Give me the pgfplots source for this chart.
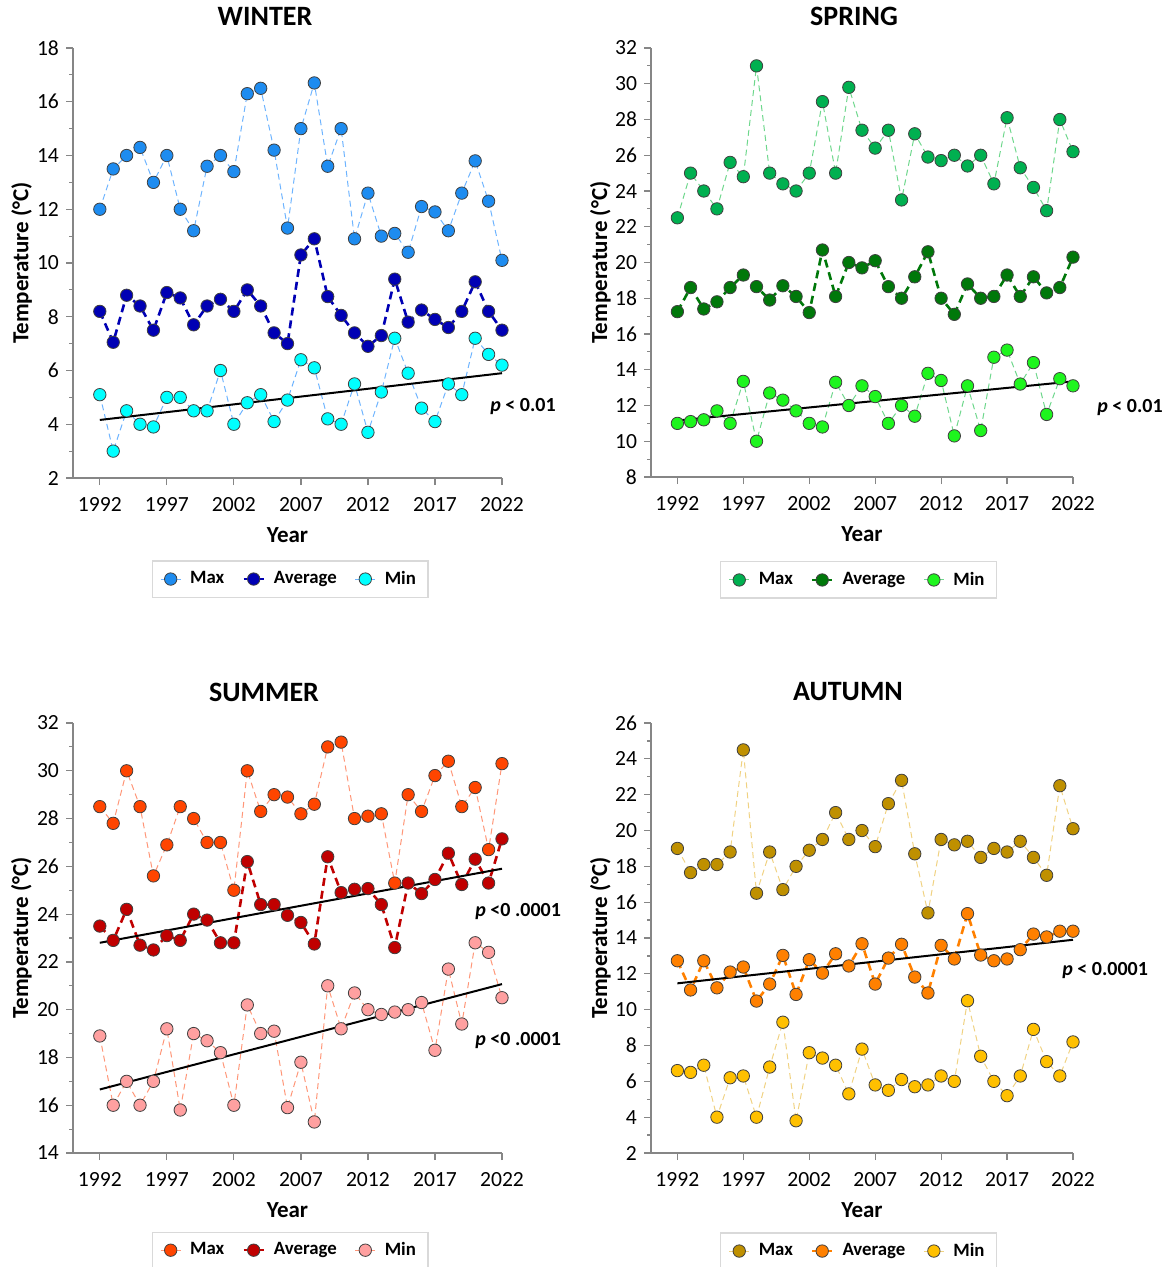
\documentclass[border=0pt]{standalone}
\usepackage{pgfplots}
\pgfplotsset{compat=1.18}
\usepackage{pgfplotstable}
\usepackage{fontspec}
\setmainfont{Carlito}

% palette
\definecolor{axisgray}{RGB}{134,134,134}
\definecolor{legendgray}{RGB}{217,217,217}
\definecolor{markedge}{RGB}{64,64,64}
% winter
\definecolor{wmax}{RGB}{30,140,240}
\definecolor{wmaxl}{RGB}{110,180,255}
\definecolor{wavg}{RGB}{0,0,180}
\definecolor{wmin}{RGB}{0,255,255}
% spring
\definecolor{smax}{RGB}{0,176,80}
\definecolor{smaxl}{RGB}{110,215,140}
\definecolor{savg}{RGB}{0,120,10}
\definecolor{smin}{RGB}{30,245,30}
% summer
\definecolor{umax}{RGB}{255,69,0}
\definecolor{umaxl}{RGB}{255,150,120}
\definecolor{uavg}{RGB}{192,0,0}
\definecolor{umin}{RGB}{255,160,160}
% autumn
\definecolor{amax}{RGB}{191,144,0}
\definecolor{amaxl}{RGB}{240,210,130}
\definecolor{aavg}{RGB}{255,128,0}
\definecolor{amin}{RGB}{255,192,0}

\pgfplotstableread{
year max avg min
1992 12.0 8.20 5.1
1993 13.5 7.05 3.0
1994 14.0 8.80 4.5
1995 14.3 8.40 4.0
1996 13.0 7.50 3.9
1997 14.0 8.90 5.0
1998 12.0 8.70 5.0
1999 11.2 7.70 4.5
2000 13.6 8.40 4.5
2001 14.0 8.65 6.0
2002 13.4 8.20 4.0
2003 16.3 9.00 4.8
2004 16.5 8.40 5.1
2005 14.2 7.40 4.1
2006 11.3 7.00 4.9
2007 15.0 10.30 6.4
2008 16.7 10.90 6.1
2009 13.6 8.75 4.2
2010 15.0 8.05 4.0
2011 10.9 7.40 5.5
2012 12.6 6.90 3.7
2013 11.0 7.30 5.2
2014 11.1 9.40 7.2
2015 10.4 7.80 5.9
2016 12.1 8.25 4.6
2017 11.9 7.90 4.1
2018 11.2 7.60 5.5
2019 12.6 8.20 5.1
2020 13.8 9.30 7.2
2021 12.3 8.20 6.6
2022 10.1 7.50 6.2
}\winter

\pgfplotstableread{
year max avg min
1992 22.5 17.25 11.0
1993 25.0 18.60 11.1
1994 24.0 17.40 11.2
1995 23.0 17.80 11.7
1996 25.6 18.60 11.0
1997 24.8 19.30 13.35
1998 31.0 18.65 10.0
1999 25.0 17.90 12.7
2000 24.4 18.70 12.3
2001 24.0 18.10 11.7
2002 25.0 17.20 11.0
2003 29.0 20.70 10.8
2004 25.0 18.10 13.3
2005 29.8 20.00 12.0
2006 27.4 19.70 13.1
2007 26.4 20.10 12.5
2008 27.4 18.65 11.0
2009 23.5 18.00 12.0
2010 27.2 19.20 11.4
2011 25.9 20.60 13.8
2012 25.7 18.00 13.4
2013 26.0 17.10 10.3
2014 25.4 18.80 13.1
2015 26.0 18.00 10.6
2016 24.4 18.10 14.7
2017 28.1 19.30 15.1
2018 25.3 18.10 13.2
2019 24.2 19.20 14.4
2020 22.9 18.30 11.5
2021 28.0 18.60 13.5
2022 26.2 20.30 13.1
}\spring

\pgfplotstableread{
year max avg min
1992 28.5 23.50 18.9
1993 27.8 22.90 16.0
1994 30.0 24.20 17.0
1995 28.5 22.70 16.0
1996 25.6 22.50 17.0
1997 26.9 23.10 19.2
1998 28.5 22.90 15.8
1999 28.0 24.00 19.0
2000 27.0 23.75 18.7
2001 27.0 22.80 18.2
2002 25.0 22.80 16.0
2003 30.0 26.20 20.2
2004 28.3 24.40 19.0
2005 29.0 24.40 19.1
2006 28.9 23.95 15.9
2007 28.2 23.65 17.8
2008 28.6 22.75 15.3
2009 31.0 26.40 21.0
2010 31.2 24.90 19.2
2011 28.0 25.04 20.7
2012 28.1 25.07 20.0
2013 28.2 24.40 19.8
2014 25.3 22.60 19.9
2015 29.0 25.30 20.0
2016 28.3 24.86 20.3
2017 29.8 25.45 18.3
2018 30.4 26.55 21.7
2019 28.5 25.24 19.4
2020 29.3 26.30 22.8
2021 26.7 25.30 22.4
2022 30.3 27.15 20.5
}\summer

\pgfplotstableread{
year max avg min
1992 19.0 12.73 6.6
1993 17.65 11.10 6.5
1994 18.1 12.73 6.9
1995 18.1 11.22 4.0
1996 18.8 12.10 6.2
1997 24.5 12.38 6.3
1998 16.5 10.48 4.0
1999 18.8 11.43 6.8
2000 16.7 13.03 9.3
2001 18.0 10.85 3.8
2002 18.9 12.79 7.6
2003 19.5 12.04 7.3
2004 21.0 13.12 6.9
2005 19.5 12.44 5.3
2006 20.0 13.68 7.8
2007 19.1 11.43 5.8
2008 21.5 12.88 5.5
2009 22.8 13.65 6.1
2010 18.7 11.82 5.7
2011 15.4 10.93 5.8
2012 19.5 13.59 6.3
2013 19.2 12.83 6.0
2014 19.4 15.36 10.5
2015 18.5 13.05 7.4
2016 19.0 12.73 6.0
2017 18.8 12.83 5.2
2018 19.4 13.35 6.3
2019 18.5 14.22 8.9
2020 17.5 14.06 7.1
2021 22.5 14.38 6.3
2022 20.1 14.38 8.2
}\autumn

\pgfplotsset{
  season/.style={
    scale only axis, clip=false,
    xmin=1990, xmax=2022,
    axis x line*=bottom, axis y line*=left,
    axis line style={draw=axisgray, line width=0.6pt, -},
    xtick={1992,1997,...,2022},
    minor x tick num=0, minor y tick num=1,
    tick align=outside,
    major tick length=3.5pt, minor tick length=2pt,
    every tick/.style={draw=axisgray, line width=0.6pt},
    ticklabel style={font=\fontsize{10.8}{12}\selectfont},
    x tick label style={yshift=-2.5pt},
    /pgf/number format/assume math mode=true,
    /pgf/number format/1000 sep={},
    xlabel={Year}, ylabel={Temperature (°C)},
    label style={font=\bfseries\fontsize{11.5}{13}\selectfont},
    xlabel style={at={(axis description cs:0.5,-0.1326)}, anchor=center},
    ylabel style={at={(axis description cs:-0.12,0.5)}, anchor=center},
    legend columns=3,
    legend style={anchor=center, draw=legendgray, line width=0.6pt,
      font=\bfseries\fontsize{9.4}{10.5}\selectfont,
      inner xsep=4pt, inner ysep=3pt,
      /tikz/every odd column/.append style={column sep=2.5pt},
      /tikz/every even column/.append style={column sep=7pt}},
    legend image code/.code={%
      \draw[solid, mark repeat=2, mark phase=2]
        plot coordinates {(0pt,0pt) (5pt,0pt) (10pt,0pt)};},
  },
  thin line/.style={dash pattern=on 3pt off 2pt, line width=0.5pt},
  thick line/.style={dash pattern=on 4pt off 2.5pt, line width=1.3pt},
  dot/.style={mark=*, mark size=3.1pt,
    mark options={solid, fill=#1, draw=markedge, line width=0.4pt}},
  trend/.style={black, line width=1pt, forget plot},
}

\begin{document}
\begin{tikzpicture}
\useasboundingbox (0,0) rectangle (587.5pt,-633.5pt);

% ---------- winter ----------
\begin{axis}[season, at={(36.5pt,-239pt)}, anchor=south west,
  width=214.5pt, height=215pt, ymin=2, ymax=18, ytick={2,4,...,18},
  legend style={at={(0.506,-0.235)}}]
  \addplot[wmaxl, thin line, dot=wmax] table[x=year,y=max] {\winter};
  \addlegendentry{Max}
  \addplot[wavg, thick line, dot=wavg] table[x=year,y=avg] {\winter};
  \addlegendentry{Average}
  \addplot[wmaxl, thin line, dot=wmin] table[x=year,y=min] {\winter};
  \addlegendentry{Min}
  \addplot[trend] coordinates {(1992,4.16) (2022,5.9)};
\end{axis}

% ---------- spring ----------
\begin{axis}[season, at={(325.5pt,-238.5pt)}, anchor=south west,
  width=211pt, height=214.5pt, ymin=8, ymax=32, ytick={8,10,...,32},
  legend style={at={(0.492,-0.240)}}]
  \addplot[smaxl, thin line, dot=smax] table[x=year,y=max] {\spring};
  \addlegendentry{Max}
  \addplot[savg, thick line, dot=savg] table[x=year,y=avg] {\spring};
  \addlegendentry{Average}
  \addplot[smaxl, thin line, dot=smin] table[x=year,y=min] {\spring};
  \addlegendentry{Min}
  \addplot[trend] coordinates {(1992,11.16) (2022,13.35)};
\end{axis}

% ---------- summer ----------
\begin{axis}[season, at={(36.5pt,-576.5pt)}, anchor=south west,
  width=214.5pt, height=215pt, ymin=14, ymax=32, ytick={14,16,...,32},
  legend style={at={(0.506,-0.226)}}]
  \addplot[umaxl, thin line, dot=umax] table[x=year,y=max] {\summer};
  \addlegendentry{Max}
  \addplot[uavg, thick line, dot=uavg] table[x=year,y=avg] {\summer};
  \addlegendentry{Average}
  \addplot[umaxl, thin line, dot=umin] table[x=year,y=min] {\summer};
  \addlegendentry{Min}
  \addplot[trend] coordinates {(1992,22.8) (2022,25.9)};
  \addplot[trend] coordinates {(1992,16.66) (2022,21.07)};
\end{axis}

% ---------- autumn ----------
\begin{axis}[season, at={(325.5pt,-576.5pt)}, anchor=south west,
  width=211pt, height=215pt, ymin=2, ymax=26, ytick={2,4,...,26},
  legend style={at={(0.492,-0.228)}}]
  \addplot[amaxl, thin line, dot=amax] table[x=year,y=max] {\autumn};
  \addlegendentry{Max}
  \addplot[aavg, thick line, dot=aavg] table[x=year,y=avg] {\autumn};
  \addlegendentry{Average}
  \addplot[amaxl, thin line, dot=amin] table[x=year,y=min] {\autumn};
  \addlegendentry{Min}
  \addplot[trend] coordinates {(1992,11.47) (2022,13.9)};
\end{axis}

% panel titles
\begin{scope}[font=\bfseries\fontsize{14}{16}\selectfont]
  \node at (132.5pt,-8.25pt) {WINTER};
  \node at (427pt,-8.25pt) {SPRING};
  \node at (132pt,-346pt) {SUMMER};
  \node at (424pt,-346pt) {AUTUMN};
\end{scope}

% significance of the trends
\begin{scope}[font=\bfseries\fontsize{10}{12}\selectfont, inner sep=0pt]
  \node[anchor=west] at (245pt,-203.5pt) {\textit{p} < 0.01};
  \node[anchor=west] at (548.5pt,-204pt) {\textit{p} < 0.01};
  \node[anchor=west] at (237.5pt,-456pt) {\textit{p} <0 .0001};
  \node[anchor=west] at (237.5pt,-520.5pt) {\textit{p} <0 .0001};
  \node[anchor=west] at (531pt,-485.5pt) {\textit{p} < 0.0001};
\end{scope}
\end{tikzpicture}
\end{document}
